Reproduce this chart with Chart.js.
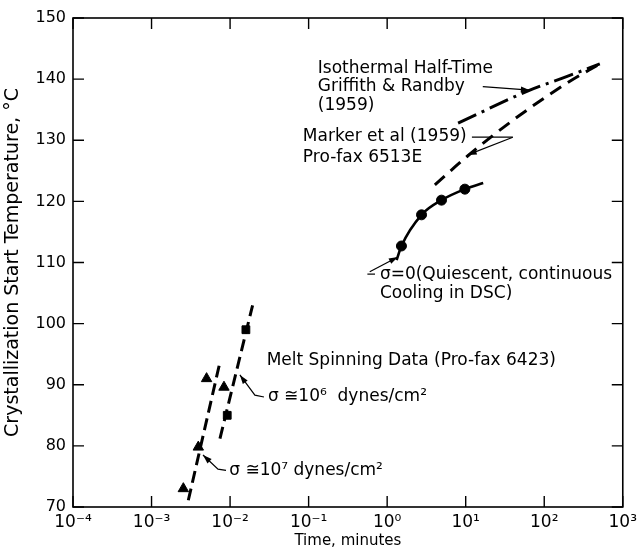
<!DOCTYPE html>
<html>
<head>
<meta charset="utf-8">
<script src="https://cdn.jsdelivr.net/npm/chart.js@4.4.1/dist/chart.umd.min.js"></script>
<style>
  html, body { margin: 0; padding: 0; background: #ffffff; }
  canvas { display: block; }
</style>
</head>
<body>
<canvas id="c" width="642" height="555"></canvas>
<script>
// ---------- data ----------
const xTickValues = [1e-4, 1e-3, 1e-2, 1e-1, 1e0, 1e1, 1e2, 1e3];
const xTickLabels = ['10\u207B\u2074', '10\u207B\u00B3', '10\u207B\u00B2', '10\u207B\u00B9', '10\u2070', '10\u00B9', '10\u00B2', '10\u00B3'];
const yTickValues = [70, 80, 90, 100, 110, 120, 130, 140, 150];

// DSC (quiescent, continuous cooling) curve and points
const dscCurveX = [1.32, 1.52, 2.74, 4.92, 9.76, 16.7];
const dscCurveY = [110.4, 112.7, 117.8, 120.2, 122.0, 123.0];
const dscPointX = [1.52, 2.74, 4.92, 9.76];
const dscPointY = [112.7, 117.8, 120.2, 122.0];

// Marker et al (1959) Pro-fax 6513E (dashed)
const markerX = [4.05, 10.3, 40.2, 192, 510];
const markerY = [122.7, 127.3, 133.3, 139.3, 142.5];

// Isothermal half-time, Griffith & Randby (1959) (dash-dot)
const griffithX = [8.0, 65.6, 192, 510];
const griffithY = [132.8, 138.2, 140.4, 142.5];

// Melt spinning, sigma ~ 1e7 dynes/cm2 (triangles + dashed line)
const melt7LineX = [0.00294, 0.00728];
const melt7LineY = [71.1, 93.2];
const melt7PointX = [0.00254, 0.00394, 0.00502, 0.00836];
const melt7PointY = [73.0, 79.8, 91.0, 89.6];

// Melt spinning, sigma ~ 1e6 dynes/cm2 (squares + dashed line)
const melt6LineX = [0.00743, 0.01935];
const melt6LineY = [81.2, 103.0];
const melt6PointX = [0.0092, 0.0159];
const melt6PointY = [85.0, 99.0];

const pts = (xs, ys) => xs.map((x, i) => ({ x: x, y: ys[i] }));

// ---------- annotations (anchored in data units) ----------
const FONT = '"DejaVu Sans", sans-serif';
const annotations = [
  { x: 0.131, y: 141.8, lineHeight: 18.5, lines: ['Isothermal Half-Time', 'Griffith & Randby', '(1959)'] },
  { x: 0.0845, y: 130.57, lineHeight: 21, lines: ['Marker et al (1959)', 'Pro-fax 6513E'] },
  { x: 0.808, y: 108.1, lineHeight: 19, lines: ['\u03C3=0(Quiescent, continuous', 'Cooling in DSC)'] },
  { x: 0.0292, y: 93.9, lineHeight: 19, lines: ['Melt Spinning Data (Pro-fax 6423)'] },
  { x: 0.0303, y: 88.0, lineHeight: 19, lines: ['\u03C3 \u224510\u2076  dynes/cm\u00B2'] },
  { x: 0.00976, y: 76.0, lineHeight: 19, lines: ['\u03C3 \u224510\u2077 dynes/cm\u00B2'] }
];
// leader lines: polylines in data units, arrowhead at last point if arrow
const leaders = [
  { arrow: true, path: [[16.5, 138.76], [65.6, 138.2]] },
  { arrow: false, path: [[12.0, 130.5], [39.8, 130.5]] },
  { arrow: true, path: [[39.8, 130.5], [10.6, 127.6]] },
  { arrow: false, path: [[0.56, 108.1], [0.70, 108.1]] },
  { arrow: true, path: [[0.60, 108.5], [1.368, 110.9]] },
  { arrow: true, path: [[0.0270, 88.0], [0.0207, 88.3], [0.01333, 91.6]] },
  { arrow: true, path: [[0.00887, 76.0], [0.00702, 76.2], [0.00452, 78.5]] }
];

const framePlugin = {
  id: 'frameAndNotes',
  afterDraw(chart) {
    const ctx = chart.ctx;
    const a = chart.chartArea;
    const xs = chart.scales.x, ys = chart.scales.y;
    ctx.save();
    ctx.strokeStyle = '#000';
    ctx.fillStyle = '#000';
    ctx.lineWidth = 1.6;
    ctx.strokeRect(a.left, a.top, a.right - a.left, a.bottom - a.top);
    const tl = 11;
    ctx.lineWidth = 1.4;
    xTickValues.forEach(v => {
      const px = xs.getPixelForValue(v);
      ctx.beginPath();
      ctx.moveTo(px, a.bottom); ctx.lineTo(px, a.bottom - tl);
      ctx.moveTo(px, a.top); ctx.lineTo(px, a.top + tl);
      ctx.stroke();
    });
    yTickValues.forEach(v => {
      const py = ys.getPixelForValue(v);
      ctx.beginPath();
      ctx.moveTo(a.left, py); ctx.lineTo(a.left + tl, py);
      ctx.moveTo(a.right, py); ctx.lineTo(a.right - tl, py);
      ctx.stroke();
    });
    // annotations
    ctx.font = '17px ' + FONT;
    ctx.textBaseline = 'middle';
    ctx.textAlign = 'left';
    annotations.forEach(n => {
      const px = xs.getPixelForValue(n.x), py = ys.getPixelForValue(n.y);
      n.lines.forEach((t, i) => ctx.fillText(t, px, py + i * n.lineHeight));
    });
    ctx.lineWidth = 1.2;
    leaders.forEach(l => {
      const p = l.path.map(q => [xs.getPixelForValue(q[0]), ys.getPixelForValue(q[1])]);
      ctx.beginPath();
      ctx.moveTo(p[0][0], p[0][1]);
      for (let i = 1; i < p.length; i++) ctx.lineTo(p[i][0], p[i][1]);
      ctx.stroke();
      if (l.arrow) {
        const t = p[p.length - 1], f = p[p.length - 2];
        const ang = Math.atan2(t[1] - f[1], t[0] - f[0]);
        const L = 9, W = 3;
        ctx.beginPath();
        ctx.moveTo(t[0], t[1]);
        ctx.lineTo(t[0] - L * Math.cos(ang) + W * Math.sin(ang), t[1] - L * Math.sin(ang) - W * Math.cos(ang));
        ctx.lineTo(t[0] - L * Math.cos(ang) - W * Math.sin(ang), t[1] - L * Math.sin(ang) + W * Math.cos(ang));
        ctx.closePath();
        ctx.fill();
      }
    });
    ctx.restore();
  }
};

const lineDs = (data, dash, width, mono) => ({
  data: data, showLine: true, borderColor: '#000', borderWidth: width,
  borderDash: dash, pointRadius: 0, fill: false,
  cubicInterpolationMode: mono ? 'monotone' : 'default', tension: mono ? 0.4 : 0
});
const markDs = (data, style, r) => ({
  data: data, showLine: false, pointStyle: style, pointRadius: r,
  backgroundColor: '#000', borderColor: '#000', borderWidth: 1
});

new Chart(document.getElementById('c'), {
  type: 'scatter',
  data: {
    datasets: [
      lineDs(pts(dscCurveX, dscCurveY), [], 2.6, true),
      markDs(pts(dscPointX, dscPointY), 'circle', 5),
      lineDs(pts(markerX, markerY), [13, 8], 3, true),
      lineDs(pts(griffithX, griffithY), [20, 6, 3, 6], 3, true),
      lineDs(pts(melt7LineX, melt7LineY), [12, 6], 3, false),
      lineDs(pts(melt6LineX, melt6LineY), [12, 6], 3, false),
      markDs(pts(melt7PointX, melt7PointY), 'triangle', 6),
      markDs(pts(melt6PointX, melt6PointY), 'rect', 5.5)
    ]
  },
  options: {
    responsive: false,
    animation: false,
    layout: { padding: { left: 0, right: 19, top: 18, bottom: 0 } },
    plugins: { legend: { display: false }, tooltip: { enabled: false } },
    scales: {
      x: {
        type: 'logarithmic', min: 1e-4, max: 1e3,
        grid: { display: false, drawTicks: false },
        border: { display: false },
        afterBuildTicks: s => { s.ticks = xTickValues.map(v => ({ value: v, major: true })); },
        afterFit: s => { s.height = 48; },
        ticks: {
          autoSkip: false, maxRotation: 0, padding: 5, color: '#000',
          font: { family: FONT, size: 17 },
          callback: (v, i) => xTickLabels[i]
        },
        title: { display: true, text: 'Time, minutes', color: '#000', font: { family: FONT, size: 15 }, padding: { top: 0, bottom: 5 } }
      },
      y: {
        type: 'linear', min: 70, max: 150,
        grid: { display: false, drawTicks: false },
        border: { display: false },
        afterBuildTicks: s => { s.ticks = yTickValues.map(v => ({ value: v })); },
        afterFit: s => { s.width = 73; },
        ticks: { padding: 7, color: '#000', font: { family: FONT, size: 16 } },
        title: { display: true, text: 'Crystallization Start Temperature, \u00B0C', color: '#000', font: { family: FONT, size: 19 }, padding: { top: 2, bottom: 0 } }
      }
    }
  },
  plugins: [framePlugin]
});
</script>
</body>
</html>
